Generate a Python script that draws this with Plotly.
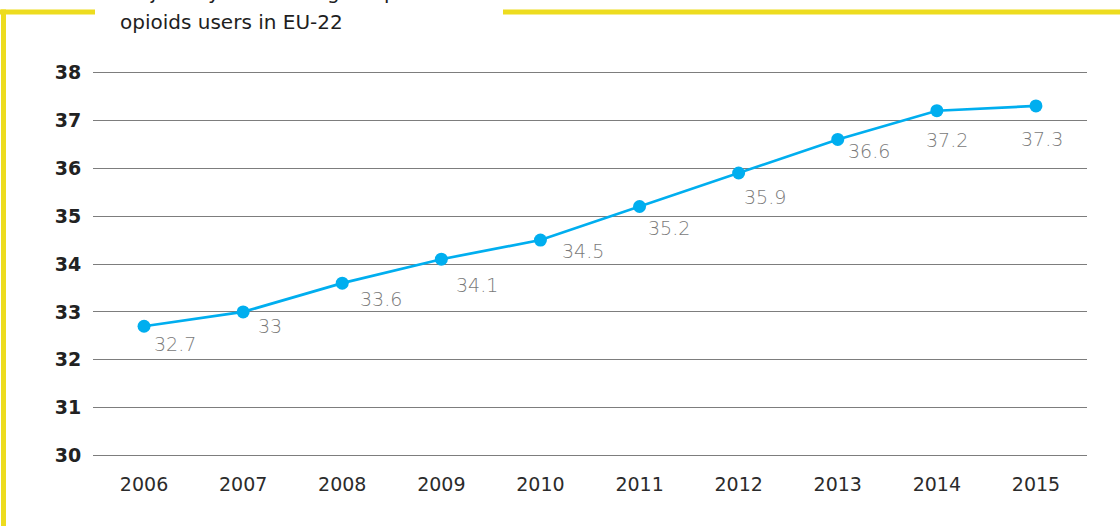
import plotly.graph_objects as go

# ---- data ----
years = ["2006", "2007", "2008", "2009", "2010", "2011", "2012", "2013", "2014", "2015"]
mean_age = [32.7, 33.0, 33.6, 34.1, 34.5, 35.2, 35.9, 36.6, 37.2, 37.3]
y_ticks = [30, 31, 32, 33, 34, 35, 36, 37, 38]
title_lines = ["Trajectory of mean age of problem", "opioids users in EU-22"]

# ---- layout / style ----
W, H = 1120, 526
L, R, T, B = 93, 33, 69.6, 67.6
PW, PH = W - L - R, H - T - B
FONT = "DejaVu Sans"
BLUE = "#00AEEF"
YELLOW = "#EDDC1F"
GRID = "#7d7d7d"
# per-label pixel offsets (dx right, dy down) from the data point
label_dx = [9, 14, 17, 14, 21, 7, 4, 9, -12, -16]
label_dy = [19, 15, 17, 27, 12, 22, 25, 13, 30, 34]


def px2x(px):
    return (px - L) / PW


def py2y(py):
    return 1 - (py - T) / PH


fig = go.Figure()
fig.add_trace(go.Scatter(
    x=years, y=mean_age, mode="lines+markers",
    line=dict(color=BLUE, width=2.7),
    marker=dict(color=BLUE, size=13),
    hoverinfo="x+y", showlegend=False,
))

annotations = []
for i, v in enumerate(mean_age):
    annotations.append(dict(
        x=i, y=v, xref="x", yref="y", text=f"{v:g}", showarrow=False,
        xanchor="left", yanchor="middle",
        xshift=label_dx[i] - 1, yshift=-label_dy[i] + 1,
        font=dict(family="DejaVu Sans ExtraLight, " + FONT, size=19, color="#7a7a7a", weight=200),
    ))

# title (first line partly cut off at the top edge)
title_y_px = [-9, 22]
for line, ypx in zip(title_lines, title_y_px):
    annotations.append(dict(
        x=px2x(118), y=py2y(ypx), xref="paper", yref="paper", text=line,
        showarrow=False, xanchor="left", yanchor="middle",
        font=dict(family=FONT, size=20, color="#1e1e1e", weight=500),
    ))

shapes = [
    dict(type="rect", xref="paper", yref="paper",
         x0=px2x(1), x1=px2x(6), y0=py2y(H + 5), y1=py2y(9),
         fillcolor=YELLOW, line=dict(width=0), layer="above"),
    dict(type="rect", xref="paper", yref="paper",
         x0=px2x(-2), x1=px2x(95), y0=py2y(14), y1=py2y(9),
         fillcolor=YELLOW, line=dict(width=0), layer="above"),
    dict(type="rect", xref="paper", yref="paper",
         x0=px2x(503), x1=px2x(W + 5), y0=py2y(14), y1=py2y(9),
         fillcolor=YELLOW, line=dict(width=0), layer="above"),
]

n = len(years)
fig.update_layout(
    width=W, height=H,
    margin=dict(l=L, r=R, t=T, b=B, pad=0),
    paper_bgcolor="white", plot_bgcolor="white",
    annotations=annotations, shapes=shapes,
    xaxis=dict(
        type="category", range=[-0.515, n - 1 + 0.515],
        showgrid=False, zeroline=False, showline=False,
        ticks="outside", ticklen=9, tickcolor="rgba(0,0,0,0)",
        tickfont=dict(family=FONT, size=19, color="#2b2b2b"),
    ),
    yaxis=dict(
        range=[29.95, 38.05], tickvals=y_ticks,
        showgrid=True, gridcolor=GRID, gridwidth=1.3,
        zeroline=False, showline=False,
        ticks="outside", ticklen=7, tickcolor="rgba(0,0,0,0)",
        tickfont=dict(family=FONT, size=19, color="#222222", weight="bold"),
    ),
)

fig.write_html(
    "out.html",
    config={"displayModeBar": False},
    post_script="document.body.style.margin='0';document.body.style.overflow='hidden';",
)
